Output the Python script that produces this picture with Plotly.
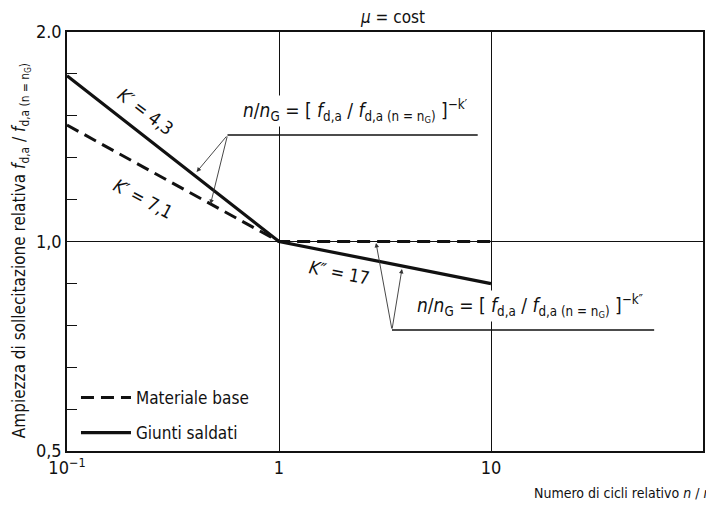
import plotly.graph_objects as go

# ---- data ----
x_base = [0.1, 1, 10]
y_base = [1.47, 1.0, 1.0]          # Materiale base (dashed)
x_weld = [0.1, 1, 10]
y_weld = [1.73, 1.0, 0.87]         # Giunti saldati (solid)

x_tickvals = [0.1, 1, 10, 100]
x_ticktext = ["10<sup>−1</sup>", "1", "10", "10<sup>2</sup>"]
y_tickvals = [0.5, 1.0, 2.0]
y_ticktext = ["0,5", "1,0", "2.0"]
y_minor_ticks = [0.574, 0.660, 0.758, 0.871, 1.149, 1.320, 1.516, 1.741]

FONT = "Liberation Sans Narrow, DejaVu Sans Condensed, Roboto Condensed, Arial Narrow, sans-serif"
INK = "#111111"

# the page body has an 8px margin, so the figure is 8px smaller than the window
W, H = 706, 501
L, R, T, B = 59, 9, 24, 58
PW, PH = W - L - R, H - T - B
PAGE_L, PAGE_B = 67, 451          # plot-area left / bottom in window pixels


def px(xp):
    return (xp - PAGE_L) / PW


def py(yp):
    return (PAGE_B - yp) / PH


def label(text, x, y, size, angle=0, **kw):
    d = dict(text=text, x=px(x), y=py(y), xref="paper", yref="paper",
             xanchor="center", yanchor="middle", showarrow=False,
             textangle=angle, font=dict(size=size))
    d.update(kw)
    return d


fig = go.Figure()
fig.add_trace(go.Scatter(x=x_base, y=y_base, mode="lines", name="Materiale base",
                         line=dict(color=INK, width=3, dash="13px,7px"), legendgroup="a"))
fig.add_trace(go.Scatter(x=x_weld, y=y_weld, mode="lines", name="Giunti saldati",
                         line=dict(color=INK, width=3.2), legendgroup="b"))
fig.add_trace(go.Scatter(x=[None], y=[None], yaxis="y2", showlegend=False, hoverinfo="skip"))

formula1 = ("<i>n</i>/<i>n</i><sub>G</sub> = [ <i>f</i><sub>d,a</sub> / "
            "<i>f</i><sub>d,a (n = n<sub>G</sub>)</sub> ]<sup>−k′</sup>")
formula2 = ("<i>n</i>/<i>n</i><sub>G</sub> = [ <i>f</i><sub>d,a</sub> / "
            "<i>f</i><sub>d,a (n = n<sub>G</sub>)</sub> ]<sup>−k″</sup>")

annotations = [
    label("<i>μ</i> = cost", 394, 17, 17),
    label("<i>K′</i> = 4,3", 146, 111, 18, 37),
    label("<i>K′</i> = 7,1", 143, 199, 18, 28),
    label("<i>K″</i> = 17", 340, 272, 18, 11),
    label(formula1, 356, 111, 19, bgcolor="white", height=30, borderpad=0),
    label(formula2, 532, 306, 19, bgcolor="white", height=30, borderpad=0),
    label("Ampiezza di sollecitazione relativa <i>f</i><sub>d,a</sub> / "
          "<i>f</i><sub>d,a (n = n<sub>G</sub>)</sub>", 21, 251, 17, -90),
    label("Numero di cicli relativo <i>n</i> / <i>n</i><sub>G</sub>", 533, 494, 14,
          xanchor="left"),
]

# arrows (head, tail) in window pixels
arrows = [((197, 172), (228, 135)), ((211, 204), (228, 135)),
          ((377, 243), (393, 330)), ((403, 269), (393, 330))]
for (hx, hy), (tx, ty) in arrows:
    annotations.append(dict(text="", x=px(hx), y=py(hy), xref="paper", yref="paper",
                            ax=tx - hx, ay=ty - hy, showarrow=True, arrowhead=2,
                            arrowsize=1, arrowwidth=0.9, arrowcolor="#333"))

shapes = [
    dict(type="line", xref="paper", yref="paper", x0=px(228), x1=px(479), y0=py(135), y1=py(135),
         line=dict(color=INK, width=1.5)),
    dict(type="line", xref="paper", yref="paper", x0=px(393), x1=px(656), y0=py(330), y1=py(330),
         line=dict(color=INK, width=1.5)),
]

fig.update_layout(
    width=W, height=H,
    margin=dict(l=L, r=R, t=T, b=B),
    paper_bgcolor="white", plot_bgcolor="white",
    font=dict(family=FONT, color=INK, size=17),
    showlegend=True,
    legend=dict(x=px(76), y=py(380), xanchor="left", yanchor="top",
                bgcolor="rgba(0,0,0,0)", font=dict(size=17), tracegroupgap=10,
                itemwidth=50),
    xaxis=dict(type="log", range=[-1, 2], tickvals=x_tickvals, ticktext=x_ticktext,
               showgrid=True, gridcolor=INK, gridwidth=1.2, showline=True, mirror=True,
               linecolor=INK, linewidth=1.5, ticks="", zeroline=False,
               tickfont=dict(size=18)),
    yaxis=dict(type="log", range=[-0.30103, 0.30103], tickvals=y_tickvals, ticktext=y_ticktext,
               showgrid=True, gridcolor=INK, gridwidth=1.2, showline=True, mirror=True,
               linecolor=INK, linewidth=1.5, ticks="", zeroline=False,
               tickfont=dict(size=18)),
    yaxis2=dict(type="log", range=[-0.30103, 0.30103], overlaying="y", side="left",
                tickvals=y_minor_ticks, ticks="inside", ticklen=10, tickwidth=1.2,
                tickcolor=INK, showgrid=False, showline=False, zeroline=False,
                showticklabels=False),
    annotations=annotations,
    shapes=shapes,
)

fig.write_html("out.html")
